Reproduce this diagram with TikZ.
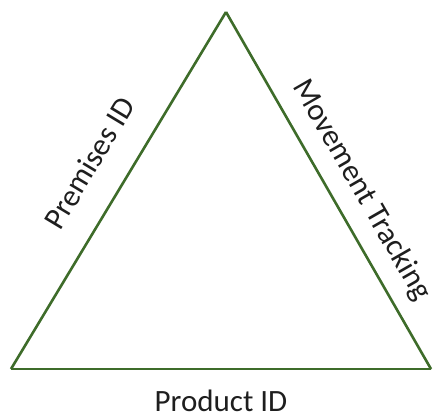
\documentclass[tikz,border=0pt]{standalone}
\usepackage{fontspec}
\setmainfont{Carlito}
\usepackage{tikz}
\usetikzlibrary{positioning}

\definecolor{sidegreen}{RGB}{62,108,42}
\definecolor{labelgray}{RGB}{30,30,30}

\tikzset{
  side/.style={draw=sidegreen, line width=2.6pt, line join=miter},
  sidelabel/.style={font=\fontsize{31}{31}\selectfont, text=labelgray, inner sep=0pt, sloped}
}

\begin{document}
\begin{tikzpicture}[x=1pt, y=-1pt]
  \useasboundingbox (0,0) rectangle (437,417);

  % Define corners
  \coordinate (apex) at (226,12);
  \coordinate (baseleft) at (11,369);
  \coordinate (baseright) at (431,369);

  % Connect corners
  \draw[side] (baseleft) -- node[sidelabel, pos=0.52, above=27pt] (premises) {Premises ID} (apex);
  \draw[side] (apex) -- node[sidelabel, pos=0.54, above=14pt] (movement) {Movement Tracking} (baseright);
  \draw[side] (baseright) -- coordinate[midway] (basemid) (baseleft) -- cycle;

  % Base label
  \node[sidelabel, below=21pt of basemid] (product) {Product ID};

\end{tikzpicture}
\end{document}
